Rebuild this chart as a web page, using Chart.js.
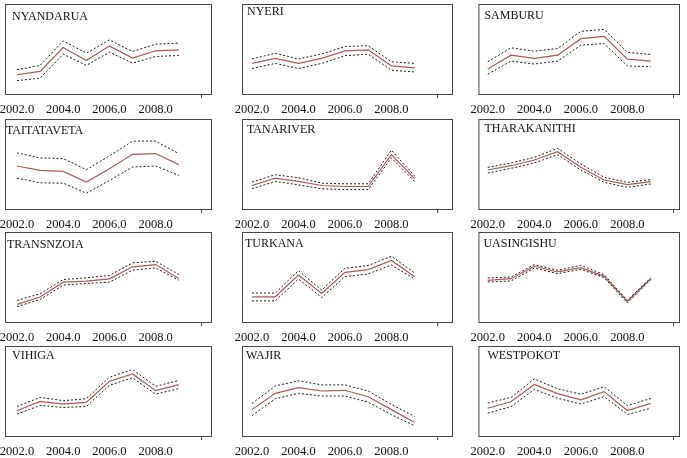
<!DOCTYPE html>
<html>
<head>
<meta charset="utf-8">
<script src="https://cdn.jsdelivr.net/npm/chart.js@4.4.1/dist/chart.umd.min.js"></script>
<style>
  html, body { margin: 0; padding: 0; background: #fff; }
  #wrap { position: relative; width: 687px; height: 458px; overflow: hidden; }
  #wrap canvas { position: absolute; }
</style>
</head>
<body>
<div id="wrap"></div>
<script>
// years on the x axis, tick values (2010 gets a mark but no label)
const years = [2002, 2003, 2004, 2005, 2006, 2007, 2008, 2009];
const xTicks = [2002, 2004, 2006, 2008, 2010];

const districts = [
    'NYANDARUA', 'NYERI', 'SAMBURU',
    'TAITATAVETA', 'TANARIVER', 'THARAKANITHI',
    'TRANSNZOIA', 'TURKANA', 'UASINGISHU',
    'VIHIGA', 'WAJIR', 'WESTPOKOT'
];

// no y scale printed in the source, values are read as % of panel height
const forecast = [
    [21.4, 25.1, 51.7, 37.3, 53.5, 39.9, 48.0, 49.1],
    [34.0, 39.6, 34.0, 39.6, 47.9, 49.1, 31.3, 29.1],
    [27.8, 43.2, 39.6, 43.2, 61.5, 64.1, 38.8, 36.6],
    [47.8, 42.9, 41.8, 29.9, 44.8, 60.8, 61.6, 49.3],
    [26.1, 34.3, 30.6, 26.1, 25.0, 25.0, 60.4, 33.6],
    [43.3, 48.1, 54.4, 63.7, 46.3, 32.2, 27.0, 30.4],
    [19.6, 27.7, 44.3, 45.4, 48.0, 61.3, 63.8, 48.3],
    [28.0, 28.0, 52.2, 31.7, 55.2, 58.2, 68.3, 50.4],
    [46.3, 48.1, 61.9, 55.6, 60.4, 50.7, 23.0, 48.1],
    [28.0, 38.4, 35.4, 37.3, 60.8, 69.0, 50.4, 57.1],
    [29.3, 47.4, 53.8, 50.0, 50.8, 43.6, 29.3, 15.0],
    [30.8, 38.0, 57.2, 47.1, 40.2, 49.3, 28.3, 36.2]
];

const upperBand = [
    [26.9, 31.7, 59.0, 45.4, 60.1, 47.2, 55.4, 56.5],
    [38.9, 45.3, 38.9, 44.5, 52.8, 53.6, 35.8, 34.0],
    [35.9, 51.3, 47.6, 50.5, 69.6, 71.8, 46.2, 44.0],
    [62.3, 56.7, 56.0, 43.7, 59.0, 75.4, 75.4, 61.6],
    [29.9, 38.1, 34.7, 28.7, 28.0, 28.0, 65.3, 36.6],
    [46.3, 51.1, 57.4, 67.4, 50.0, 35.2, 29.6, 32.6],
    [24.0, 31.4, 47.2, 49.1, 51.7, 65.7, 67.5, 52.8],
    [32.1, 32.1, 57.1, 35.4, 59.7, 62.7, 73.1, 54.5],
    [48.9, 50.0, 63.7, 57.4, 63.0, 52.6, 24.1, 48.9],
    [32.8, 42.9, 39.2, 41.4, 65.3, 73.9, 55.2, 61.6],
    [36.1, 55.6, 61.3, 56.8, 56.8, 50.0, 35.0, 21.8],
    [36.6, 42.8, 63.4, 52.5, 46.4, 54.7, 33.7, 41.7]
];

const lowerBand = [
    [14.8, 17.7, 44.3, 31.7, 46.5, 34.3, 41.7, 42.8],
    [28.3, 34.0, 28.3, 34.0, 42.6, 44.2, 26.4, 24.5],
    [22.0, 36.6, 33.3, 36.6, 54.2, 56.0, 31.1, 30.4],
    [34.3, 29.1, 28.7, 17.5, 31.7, 46.6, 47.8, 37.3],
    [22.4, 30.6, 26.9, 22.4, 21.6, 21.6, 56.7, 30.6],
    [40.0, 45.2, 51.1, 60.4, 43.3, 29.6, 24.1, 27.8],
    [17.0, 25.1, 41.0, 42.8, 44.3, 57.6, 60.1, 46.5],
    [23.5, 23.5, 47.8, 27.2, 50.4, 53.4, 63.4, 47.8],
    [44.4, 45.6, 60.0, 53.7, 58.5, 49.3, 21.1, 47.0],
    [24.3, 34.0, 31.7, 32.8, 56.3, 64.6, 46.6, 52.6],
    [22.6, 41.4, 47.4, 44.4, 44.4, 37.6, 23.7, 11.3],
    [25.4, 32.6, 51.8, 42.0, 35.5, 43.8, 23.9, 30.8]
];

// panel grid (px)
const colLeft = [5, 242, 478];
const colWidth = [207, 211, 202];
const colRange = [[2001.48, 2010.44], [2001.57, 2010.65], [2001.6, 2010.26]];
const rowTop = [4, 119, 232, 346];
const boxHeight = 90;
const padSide = 12;
const axisHeight = 24;
// title position inside each box [dx, baseline dy]
const titleOffset = [
    [7, 16], [5, 11], [6, 15],
    [1, 15], [5, 14], [6, 13],
    [2, 16], [3, 15], [5, 15],
    [7, 13], [4, 13], [9, 13]
];

const colors = {
    mid: '#a85c59',
    band: '#1a1a1a',
    frame: '#454545',
    text: '#111'
};

const serif = "'Liberation Serif', 'DejaVu Serif', serif";

// frame + district name, drawn on top of the lines
const framePlugin = {
    id: 'frame',
    afterDraw(chart, args, opts) {
        const a = chart.chartArea;
        const ctx = chart.ctx;
        ctx.save();
        ctx.strokeStyle = colors.frame;
        ctx.lineWidth = 1;
        ctx.strokeRect(a.left + 0.5, a.top + 0.5, a.right - a.left - 1, a.bottom - a.top);
        ctx.fillStyle = colors.text;
        ctx.font = '12px ' + serif;
        ctx.textBaseline = 'alphabetic';
        ctx.fillText(opts.title, a.left + opts.dx, a.top + opts.dy);
        ctx.restore();
    }
};

const wrap = document.getElementById('wrap');
const toPoints = (arr) => years.map((x, i) => ({ x: x, y: arr[i] }));

districts.forEach((name, idx) => {
    const row = Math.floor(idx / 3);
    const col = idx % 3;

    const canvas = document.createElement('canvas');
    const w = colWidth[col] + padSide * 2;
    const h = boxHeight + 1 + axisHeight;
    canvas.width = w;
    canvas.height = h;
    canvas.style.width = w + 'px';
    canvas.style.height = h + 'px';
    canvas.style.left = (colLeft[col] - padSide) + 'px';
    canvas.style.top = (rowTop[row] - 1) + 'px';
    wrap.appendChild(canvas);

    const bandStyle = {
        borderColor: colors.band,
        borderWidth: 1,
        borderDash: [2, 2],
        pointRadius: 0,
        fill: false,
        tension: 0
    };

    new Chart(canvas.getContext('2d'), {
        type: 'line',
        data: {
            datasets: [
                Object.assign({ label: 'upper', data: toPoints(upperBand[idx]) }, bandStyle),
                Object.assign({ label: 'lower', data: toPoints(lowerBand[idx]) }, bandStyle),
                {
                    label: name,
                    data: toPoints(forecast[idx]),
                    borderColor: colors.mid,
                    borderWidth: 1.2,
                    pointRadius: 0,
                    fill: false,
                    tension: 0
                }
            ]
        },
        plugins: [framePlugin],
        options: {
            responsive: false,
            animation: false,
            devicePixelRatio: 1,
            layout: { padding: { left: padSide, right: padSide, top: 1, bottom: 0 } },
            plugins: {
                legend: { display: false },
                tooltip: { enabled: false },
                frame: { title: name, dx: titleOffset[idx][0], dy: titleOffset[idx][1] }
            },
            scales: {
                x: {
                    type: 'linear',
                    min: colRange[col][0],
                    max: colRange[col][1],
                    afterBuildTicks: (scale) => { scale.ticks = xTicks.map(v => ({ value: v })); },
                    afterFit: (scale) => { scale.height = axisHeight; },
                    border: { display: false },
                    grid: {
                        drawOnChartArea: false,
                        drawTicks: true,
                        tickLength: 4,
                        color: (c) => (c.tick && c.tick.value === 2010) ? colors.frame : 'rgba(0,0,0,0)'
                    },
                    ticks: {
                        autoSkip: false,
                        maxRotation: 0,
                        padding: 4,
                        color: colors.text,
                        font: { family: serif, size: 12.5 },
                        callback: (v) => v === 2010 ? '' : v.toFixed(1)
                    }
                },
                y: {
                    display: false,
                    min: 0,
                    max: 100
                }
            }
        }
    });
});
</script>
</body>
</html>
